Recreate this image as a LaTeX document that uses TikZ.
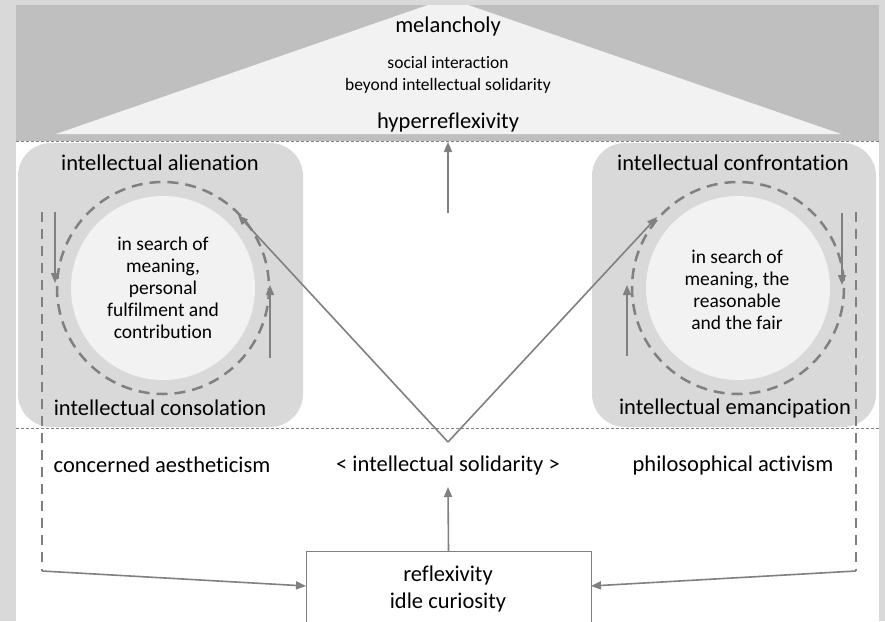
\documentclass[tikz,border=0pt]{standalone}
\usepackage{fontspec}
\setmainfont{Carlito}[Ligatures=NoCommon]
\usetikzlibrary{arrows.meta}
\definecolor{framec}{HTML}{D9D9D9}
\definecolor{bandc}{HTML}{BFBFBF}
\definecolor{palec}{HTML}{F2F2F2}
\definecolor{boxc}{HTML}{D9D9D9}
\definecolor{linec}{HTML}{808080}
\begin{document}
\begin{tikzpicture}[x=1pt,y=-1pt,
  arr/.style={draw=linec, line width=1.6pt, -{Triangle[length=10pt,width=8pt]}},
  dashv/.style={draw=linec, line width=2pt, dash pattern=on 10pt off 7pt},
  dashc/.style={draw=linec, line width=2.5pt, dash pattern=on 11pt off 7pt},
  sep/.style={draw=linec, line width=0.7pt, dash pattern=on 3pt off 2pt},
  big/.style={font=\fontsize{22.5}{26}\selectfont, inner sep=0pt},
  mid/.style={font=\fontsize{19.5}{22}\selectfont, align=center, inner sep=0pt},
  small/.style={font=\fontsize{17.5}{22}\selectfont, align=center, inner sep=0pt},
  rbox/.style={fill=boxc, rounded corners=33pt}
]
\useasboundingbox (0,0) rectangle (885,621);
% frame and bands
\fill[framec] (0,0) rectangle (885,621);
\fill[white] (16,5) rectangle (879,621);
\fill[bandc] (16,5) rectangle (879,141);
\begin{scope}
  \clip (16,5) rectangle (879,141);
  \fill[palec] (56,134) -- (448,-2) -- (841,134) -- cycle;
\end{scope}
% rounded boxes
\fill[rbox] (18,143) rectangle (303,427);
\fill[rbox] (592,143) rectangle (876,427);
% separators
\draw[sep] (16,141) -- (879,141);
\draw[sep] (16,428) -- (879,428);
% circles
\coordinate (cl) at (163,288);
\coordinate (cr) at (738,288);
\fill[palec] (cl) circle (92);
\fill[palec] (cr) circle (92);
\draw[dashc] (cl) circle (106);
\draw[dashc] (cr) circle (106);
% texts top
\node[big] (mel) at (448,27) {melancholy};
\node[small] (soc) at (448,75) {social interaction\\beyond intellectual solidarity};
\node[big] (hyp) at (448,122) {hyperreflexivity};
% box texts
\node[big] (alien) at (160,163) {intellectual alienation};
\node[big] (consol) at (160,408) {intellectual consolation};
\node[big] (confr) at (733,163) {intellectual confrontation};
\node[big] (emanc) at (735,408) {intellectual emancipation};
\node[mid] (lsearch) at (cl) {in search of\\meaning,\\personal\\fulfilment and\\contribution};
\node[mid] (rsearch) at (737,290) {in search of\\meaning, the\\reasonable\\and the fair};
% bottom texts
\node[big] (aesth) at (162,465) {concerned aestheticism};
\node[big] (solid) at (448,465) {< intellectual solidarity >};
\node[big] (activ) at (733,465) {philosophical activism};
% reflexivity box
\node[draw=linec, line width=0.8pt, fill=white, minimum width=285pt, minimum height=90pt, anchor=north, inner sep=0pt] (refl) at (448.5,551) {};
\node[big] (reflt) at (448,575) {reflexivity};
\node[big] (idle) at (448,602) {idle curiosity};
% coordinates
\coordinate (ltop) at (42,212);
\coordinate (lbot) at (42,571);
\coordinate (rtop) at (856,212);
\coordinate (rbot) at (856,571);
\coordinate (lin) at (306,586);
\coordinate (rin) at (591,586);
\coordinate (apex) at (448,442);
\coordinate (ltip) at (238,215);
\coordinate (rtip) at (657,217);
\coordinate (upfrom) at (448,213);
\coordinate (upto) at (448,142);
\coordinate (solidto) at (448,487);
\coordinate (la1) at (55,212);
\coordinate (la2) at (55,283);
\coordinate (lb1) at (270,358);
\coordinate (lb2) at (270,285);
\coordinate (ra1) at (842,213);
\coordinate (ra2) at (842,285);
\coordinate (rb1) at (627,356);
\coordinate (rb2) at (627,285);
% dashed verticals
\draw[dashv] (ltop) -- (lbot);
\draw[dashv] (rtop) -- (rbot);
% arrows
\draw[arr] (lbot) -- (lin);
\draw[arr] (rbot) -- (rin);
\draw[arr] (refl.north) -- (solidto);
\draw[arr] (upfrom) -- (upto);
\draw[arr] (apex) -- (ltip);
\draw[arr] (apex) -- (rtip);
\draw[arr] (la1) -- (la2);
\draw[arr] (lb1) -- (lb2);
\draw[arr] (ra1) -- (ra2);
\draw[arr] (rb1) -- (rb2);
\end{tikzpicture}
\end{document}
